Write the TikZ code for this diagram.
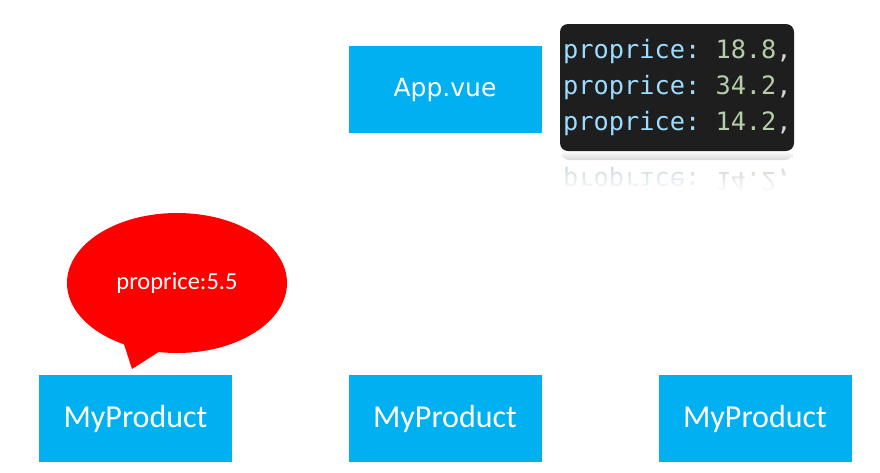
\documentclass[tikz,border=0pt]{standalone}
\usepackage{fontspec}
\setmainfont{Carlito}
\newfontfamily\dvs{DejaVu Sans}
\newfontfamily\codefont{DejaVu Sans Mono}
\usetikzlibrary{fadings,shapes.geometric}
\definecolor{boxblue}{HTML}{00B0F0}
\definecolor{codebg}{HTML}{1E1E1E}
\definecolor{ckey}{HTML}{9CDCFE}
\definecolor{cnum}{HTML}{B5CEA8}
\definecolor{cpunct}{HTML}{D4D4D4}
\tikzfading[name=wfade, top color=transparent!100, bottom color=transparent!0]
\begin{document}
\begin{tikzpicture}[x=1pt,y=-1pt]
\useasboundingbox (0,0) rectangle (880,472);
\tikzset{
  comp/.style={fill=boxblue, text=white, minimum width=193pt, minimum height=87pt, inner sep=0pt, font=\fontsize{32}{38}\selectfont},
  codeline/.style={anchor=base west, inner sep=0pt, font=\codefont\fontsize{25.3}{30}\selectfont},
}
% components
\node[comp] (app) at (445,89.5) {\dvs\fontsize{25}{30}\selectfont\raisebox{-2pt}{App.vue}};
\node[comp] (p1) at (135.5,418.5) {\raisebox{-3pt}{MyProduct}};
\node[comp] (p2) at (445,418.5) {\raisebox{-3pt}{MyProduct}};
\node[comp] (p3) at (755,418.5) {\raisebox{-3pt}{MyProduct}};
% code box
\node[fill=codebg, rounded corners=8pt, minimum width=234pt, minimum height=127pt, inner sep=0pt] (code) at (677,87.5) {};
\node[codeline] (l1) at (563,58) {\color{ckey}proprice:\ \color{cnum}18.8\color{cpunct},};
\node[codeline] (l2) at (563,94) {\color{ckey}proprice:\ \color{cnum}34.2\color{cpunct},};
\node[codeline] (l3) at (563,130) {\color{ckey}proprice:\ \color{cnum}14.2\color{cpunct},};
% reflection
\fill[black!18, path fading=wfade, rounded corners=8pt] (561,151) rectangle (793,160);
\node[codeline, yscale=-1, transform shape, opacity=0.6] (r3) at (563,172) {\color{ckey!70!black}proprice:\ \color{cnum!70!black}14.2\color{cpunct!70!black},};
\fill[white, path fading=wfade] (556,150) rectangle (798,192);
% speech bubble
\coordinate (t1) at (122,338);
\coordinate (tip) at (132,369);
\coordinate (t2) at (168,346);
\fill[red] (t1) -- (tip) -- (t2) -- cycle;
\node[ellipse, fill=red, minimum width=220pt, minimum height=140pt, inner sep=0pt, text=white, font=\fontsize{24.5}{28}\selectfont] (bubble) at (177,283) {\raisebox{-1pt}{proprice:5.5}};
\end{tikzpicture}
\end{document}
